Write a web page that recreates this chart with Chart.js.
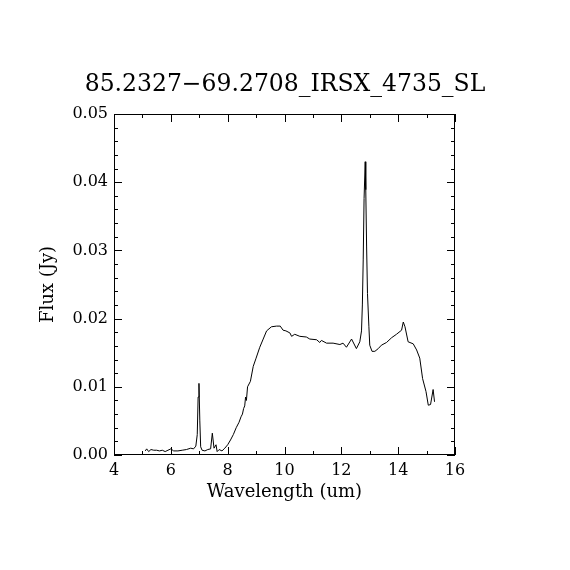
<!DOCTYPE html>
<html>
<head>
<meta charset="utf-8">
<script src="https://cdn.jsdelivr.net/npm/chart.js@4/dist/chart.umd.min.js"></script>
<style>
  html, body { margin: 0; padding: 0; background: #fff; }
  #wrap { width: 570px; height: 570px; }
</style>
</head>
<body>
<div id="wrap"><canvas id="spectrum" width="570" height="570"></canvas></div>
<script>
const wavelength = [
  5.10, 5.15, 5.22, 5.30, 5.40, 5.50, 5.60, 5.70, 5.80, 5.90,
  6.00, 6.10, 6.25, 6.40, 6.55, 6.70, 6.80, 6.88, 6.93, 6.96,
  6.99, 7.02, 7.05, 7.10, 7.20, 7.30, 7.40, 7.46, 7.52, 7.59,
  7.63, 7.70, 7.80, 7.90, 8.00, 8.10, 8.20, 8.30, 8.40, 8.47,
  8.52, 8.56, 8.60, 8.63, 8.66, 8.70, 8.80, 8.90, 9.00, 9.13,
  9.25, 9.37, 9.54, 9.72, 9.85, 9.95, 10.05, 10.19, 10.25, 10.36,
  10.54, 10.77, 10.89, 11.13, 11.24, 11.30, 11.48, 11.71, 11.95, 12.06,
  12.18, 12.36, 12.53, 12.65, 12.71, 12.74, 12.77, 12.80, 12.84, 12.86,
  12.89, 12.92, 12.97, 13.00, 13.08, 13.18, 13.30, 13.41, 13.59, 13.77,
  13.94, 14.12, 14.18, 14.24, 14.35, 14.53, 14.65, 14.76, 14.86, 14.98,
  15.06, 15.14, 15.23, 15.28
]
const flux = [
  0.0006, 0.0009, 0.0005, 0.0008, 0.0007, 0.0007, 0.0006, 0.0007, 0.0005, 0.0007,
  0.0009, 0.0006, 0.0006, 0.0007, 0.0008, 0.0010, 0.0009, 0.0013, 0.0030, 0.0085,
  0.0105, 0.0050, 0.0012, 0.0007, 0.0006, 0.0008, 0.0009, 0.0032, 0.0010, 0.0015,
  0.0005, 0.0008, 0.0006, 0.0010, 0.0015, 0.0022, 0.0030, 0.0040, 0.0048, 0.0056,
  0.0060, 0.0068, 0.0072, 0.0085, 0.0080, 0.0100, 0.0108, 0.0130, 0.0142, 0.0158,
  0.0170, 0.0182, 0.0188, 0.0189, 0.0189, 0.0183, 0.0182, 0.0179, 0.0174, 0.0177,
  0.0174, 0.0173, 0.0170, 0.0169, 0.0165, 0.0168, 0.0164, 0.0164, 0.0162, 0.0164,
  0.0158, 0.0170, 0.0156, 0.0166, 0.0182, 0.0220, 0.0286, 0.0376, 0.0430, 0.0389,
  0.0305, 0.0237, 0.0188, 0.0161, 0.0152, 0.0152, 0.0156, 0.0161, 0.0165, 0.0172,
  0.0177, 0.0183, 0.0195, 0.0188, 0.0166, 0.0163, 0.0154, 0.0142, 0.0112, 0.0093,
  0.0073, 0.0074, 0.0096, 0.0078
]
const xTicks = [4, 6, 8, 10, 12, 14, 16]
const yTicks = [0, 0.01, 0.02, 0.03, 0.04, 0.05]
const xMinor = [5, 7, 9, 11, 13, 15]
const yMinor = [0.002, 0.004, 0.006, 0.008, 0.012, 0.014, 0.016, 0.018, 0.022, 0.024, 0.026, 0.028,
  0.032, 0.034, 0.036, 0.038, 0.042, 0.044, 0.046, 0.048]

const serif = '"DejaVu Serif", "Liberation Serif", serif'

// IDL style box: frame plus inward ticks on all four sides
const idlFrame = {
  id: 'idlFrame',
  afterDraw(chart) {
    const { ctx, chartArea: a, scales: { x, y } } = chart
    ctx.save()
    ctx.strokeStyle = '#000'
    ctx.lineWidth = 1
    ctx.strokeRect(a.left + 0.5, a.top + 0.5, a.right - a.left - 1, a.bottom - a.top - 1)
    ctx.beginPath()
    const tickX = (vals, len) => vals.forEach(v => {
      const px = Math.round(x.getPixelForValue(v)) + 0.5
      ctx.moveTo(px, a.bottom); ctx.lineTo(px, a.bottom - len)
      ctx.moveTo(px, a.top); ctx.lineTo(px, a.top + len)
    })
    const tickY = (vals, len) => vals.forEach(v => {
      const py = Math.round(y.getPixelForValue(v)) + 0.5
      ctx.moveTo(a.left, py); ctx.lineTo(a.left + len, py)
      ctx.moveTo(a.right, py); ctx.lineTo(a.right - len, py)
    })
    tickX(xTicks, 8)
    tickX(xMinor, 4)
    tickY(yTicks, 8)
    tickY(yMinor, 4)
    ctx.stroke()
    ctx.restore()
  }
}

new Chart(document.getElementById('spectrum'), {
  type: 'line',
  data: {
    datasets: [{
      data: wavelength.map((w, i) => ({ x: w, y: flux[i] })),
      borderColor: '#000',
      borderWidth: 1,
      pointRadius: 0,
      tension: 0,
      fill: false
    }]
  },
  options: {
    responsive: false,
    animation: false,
    events: [],
    layout: { padding: 0 },
    plugins: {
      legend: { display: false },
      tooltip: { enabled: false },
      title: {
        display: true,
        text: '85.2327\u221269.2708_IRSX_4735_SL',
        color: '#000',
        font: { family: serif, size: 23.5, weight: 'normal', lineHeight: 1.2 },
        padding: { top: 71, bottom: 14.8 }
      }
    },
    scales: {
      x: {
        type: 'linear',
        position: 'bottom',
        min: 4,
        max: 16,
        afterBuildTicks: s => { s.ticks = xTicks.map(v => ({ value: v })) },
        afterFit: s => { s.height = 115 },
        grid: { display: false, drawTicks: false },
        border: { display: false },
        ticks: {
          color: '#000',
          padding: 6,
          maxRotation: 0,
          font: { family: serif, size: 16 },
          callback: v => String(v)
        },
        title: {
          display: true,
          text: 'Wavelength (um)',
          color: '#000',
          font: { family: serif, size: 18, lineHeight: 1.2 },
          padding: { top: 0, bottom: 67 }
        }
      },
      y: {
        type: 'linear',
        position: 'left',
        min: 0,
        max: 0.05,
        afterBuildTicks: s => { s.ticks = yTicks.map(v => ({ value: v })) },
        afterFit: s => { s.width = 114 },
        grid: { display: false, drawTicks: false },
        border: { display: false },
        ticks: {
          color: '#000',
          padding: 6,
          font: { family: serif, size: 16 },
          callback: v => v.toFixed(2)
        },
        title: {
          display: true,
          text: 'Flux (Jy)',
          color: '#000',
          font: { family: serif, size: 18, lineHeight: 1.2 },
          padding: { top: 38, bottom: 0 }
        }
      },
      yRight: {
        type: 'linear',
        position: 'right',
        afterFit: s => { s.width = 115 },
        grid: { display: false, drawTicks: false },
        border: { display: false },
        ticks: { display: false }
      }
    }
  },
  plugins: [idlFrame]
})
</script>
</body>
</html>
